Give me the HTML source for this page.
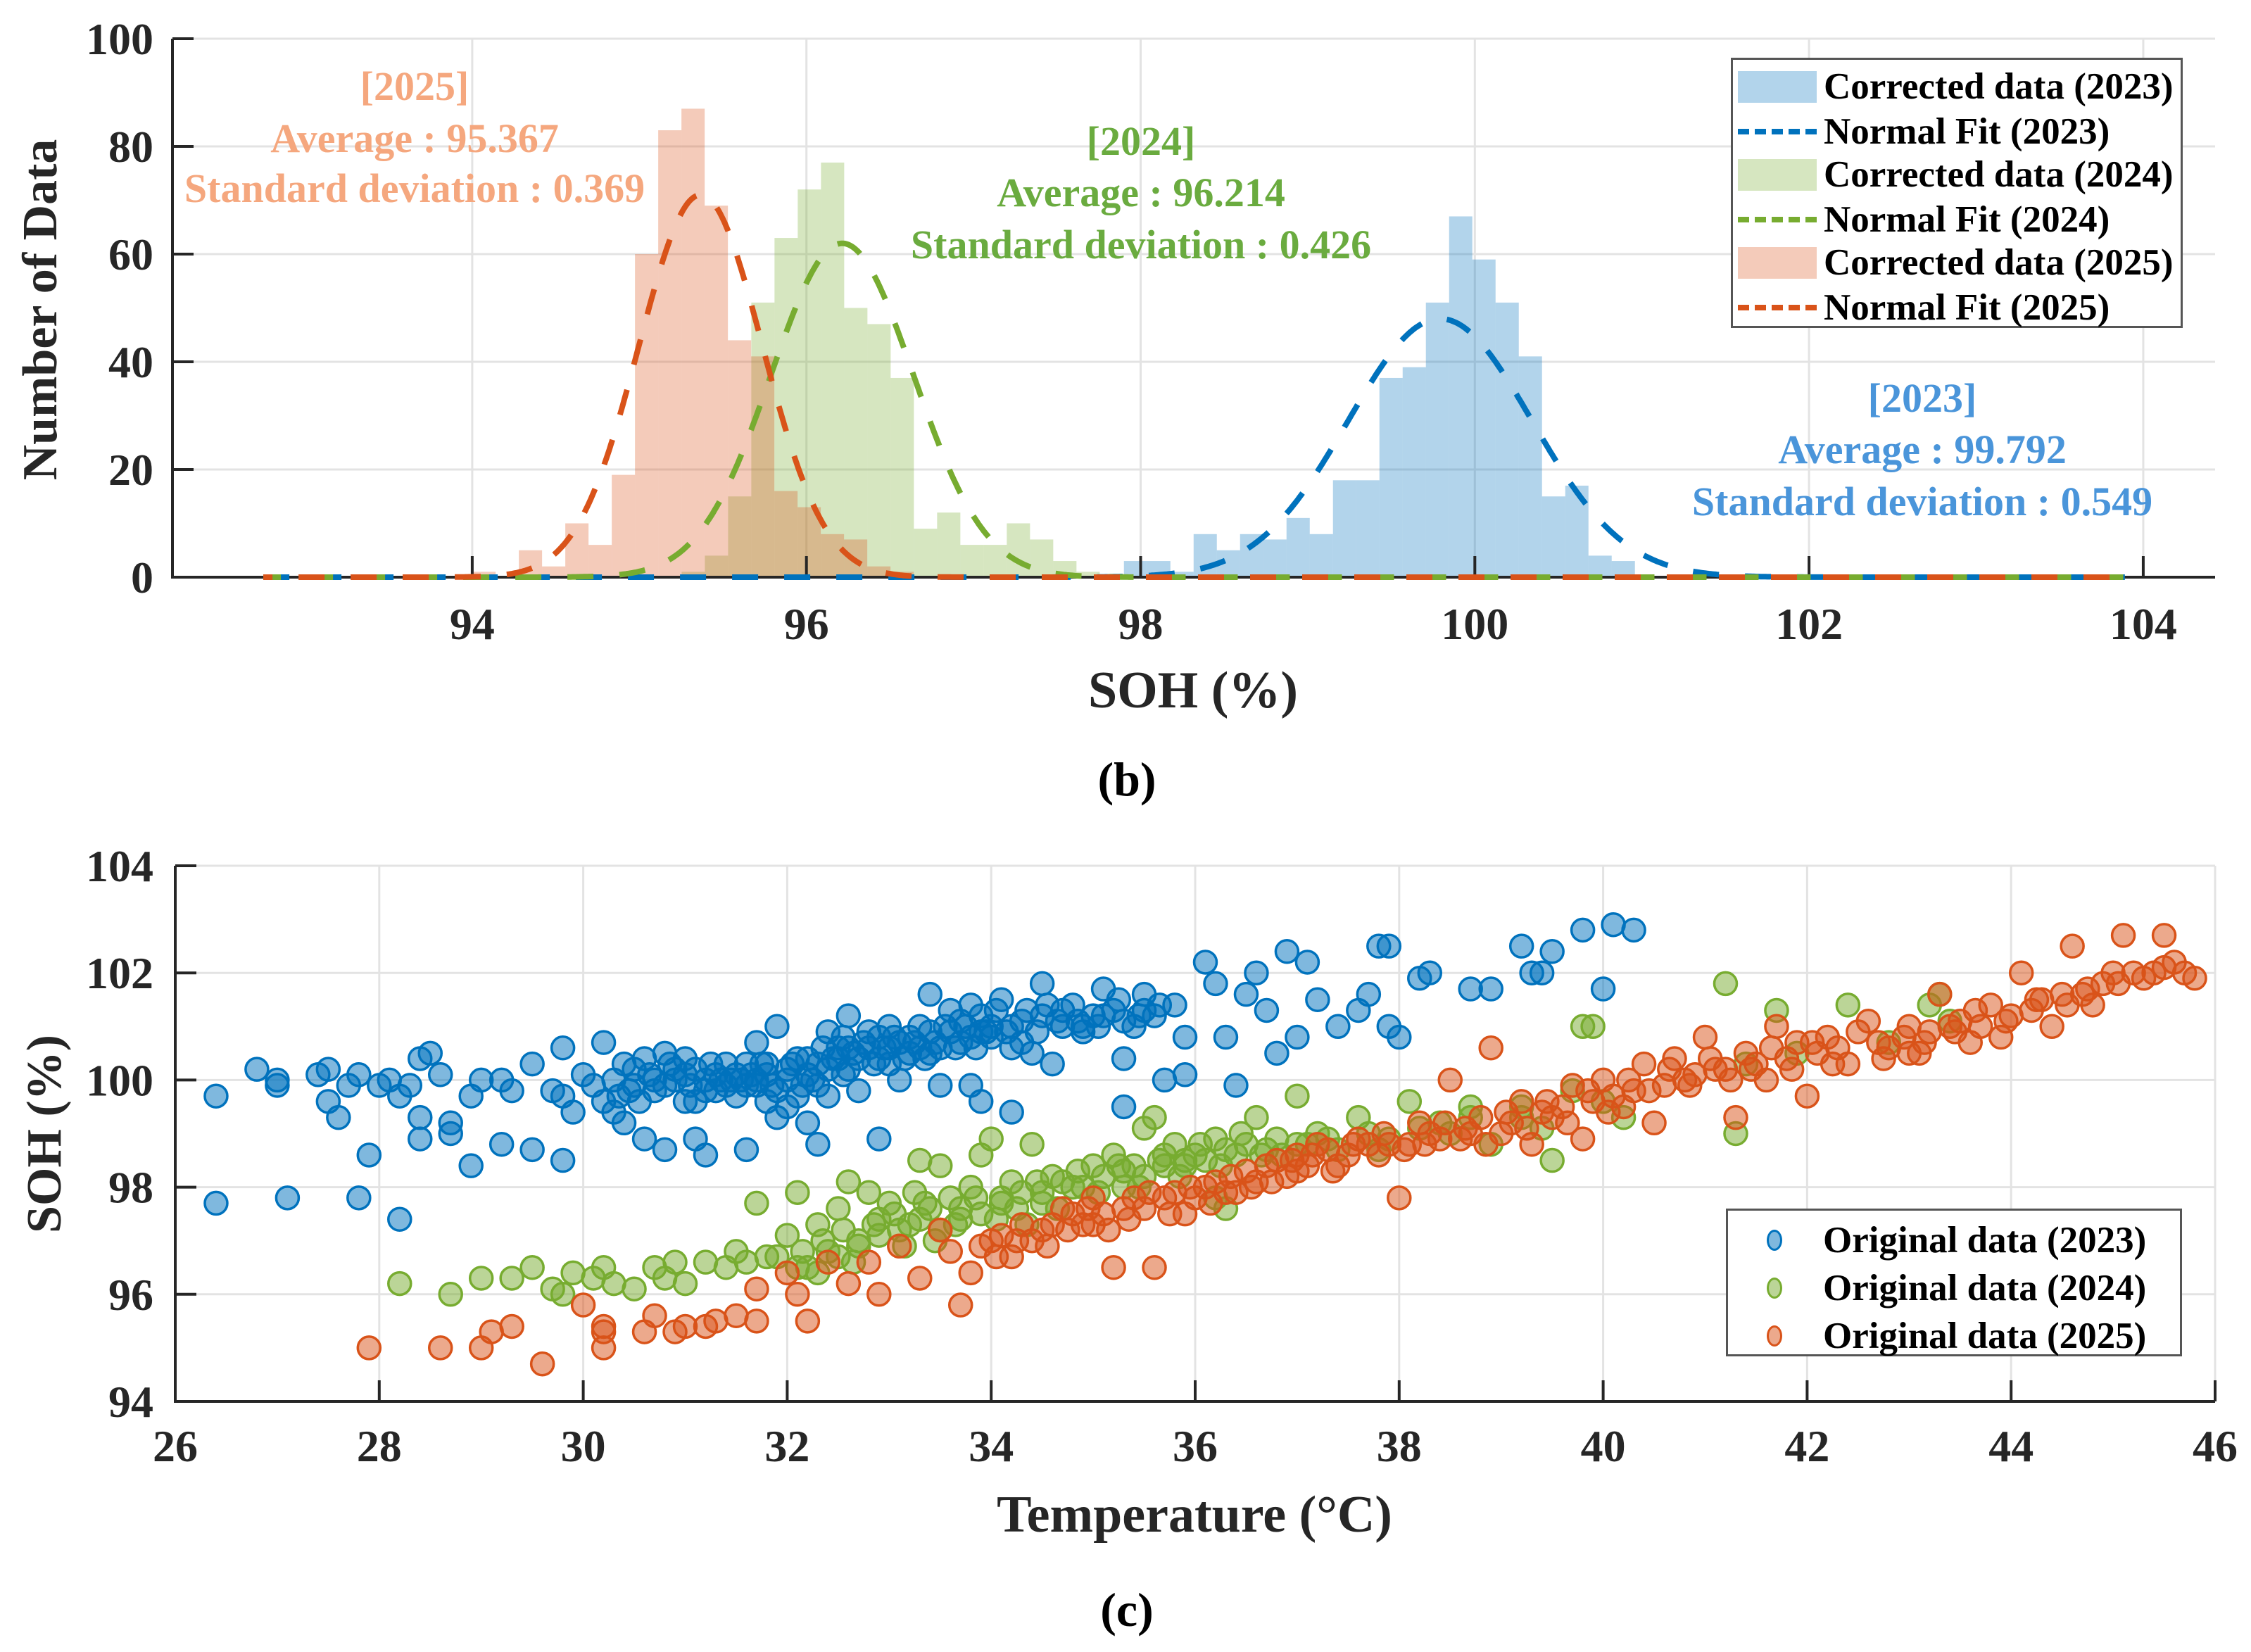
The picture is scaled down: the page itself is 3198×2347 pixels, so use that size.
<!DOCTYPE html>
<html><head><meta charset="utf-8"><style>
html,body{margin:0;padding:0;background:#fff;}
svg{display:block;font-family:"Liberation Serif",serif;font-weight:bold;}
</style></head><body>
<svg id="fig" width="3198" height="2347" viewBox="0 0 3198 2347" xmlns="http://www.w3.org/2000/svg">
<g id="topchart"></g>
<g id="bot"></g>
</svg>
<script>
// ---------- histogram data ----------
const histBinWidth = 0.139;
const histStart2023 = 97.90;
const histCounts2023 = [3,3,1,8,5,8,7,11,8,18,18,37,39,51,67,59,51,41,15,17,4,3];
const histStart2024 = 95.253;
const histCounts2024 = [1,4,15,51,63,72,77,50,47,37,9,12,6,6,10,7,3,1];
const histStart2025 = 94.001;
const histCounts2025 = [1,0,5,2,10,6,19,60,83,87,69,44,41,16,13,8,7,2,1];
const fitMeans = [99.792, 96.214, 95.367];
const fitSds = [0.549, 0.426, 0.369];
const fitPeaks = [48, 62, 71];
const histXTicks = [94,96,98,100,102,104];
const histYTicks = [0,20,40,60,80,100];

// ---------- scatter data [temperature, SOH] ----------
const scatter2023 = [[26.4,99.7],[26.4,97.7],[26.8,100.2],[27.0,99.9],[27.0,100.0],[27.1,97.8],[27.4,100.1],[27.5,100.2],[27.5,99.6],[27.6,99.3],[27.7,99.9],[27.8,100.1],[27.8,97.8],[27.9,98.6],[28.0,99.9],[28.1,100.0],[28.2,99.7],[28.2,97.4],[28.3,99.9],[28.4,100.4],[28.5,100.5],[28.4,99.3],[28.4,98.9],[28.6,100.1],[28.7,99.2],[28.7,99.0],[28.9,99.7],[28.9,98.4],[29.0,100.0],[29.2,100.0],[29.2,98.8],[29.3,99.8],[29.5,100.3],[29.5,98.7],[29.7,99.8],[29.8,100.6],[29.8,99.7],[29.8,98.5],[29.9,99.4],[30.0,100.1],[30.1,99.9],[30.2,99.6],[30.2,100.7],[30.3,99.4],[30.4,100.3],[30.4,99.2],[30.5,99.9],[30.6,98.9],[30.7,100.0],[30.8,100.5],[30.9,100.2],[30.8,98.7],[31.0,99.6],[31.0,100.1],[31.1,98.9],[31.2,99.8],[31.2,98.6],[31.3,100.1],[31.4,100.3],[31.5,99.7],[31.6,98.7],[31.7,100.0],[31.7,100.7],[31.8,100.3],[31.9,101.0],[31.9,99.3],[32.0,100.2],[32.1,99.7],[32.2,100.4],[32.2,99.2],[32.3,98.8],[32.4,99.7],[32.4,100.9],[32.5,100.6],[32.6,100.2],[32.6,101.2],[32.7,99.8],[32.8,100.9],[32.9,100.4],[32.9,98.9],[33.0,101.0],[33.0,100.6],[33.1,100.0],[33.2,100.8],[33.3,101.0],[33.4,100.5],[33.4,101.6],[33.5,99.9],[33.6,101.3],[33.7,100.7],[33.8,101.4],[33.8,99.9],[33.9,100.9],[33.9,99.6],[34.0,101.0],[34.1,101.5],[34.2,100.6],[34.2,99.4],[34.3,101.1],[34.4,100.5],[34.5,101.8],[34.6,100.3],[34.7,101.0],[34.8,101.4],[34.9,100.9],[35.0,101.2],[35.1,101.7],[35.2,101.3],[35.3,100.4],[35.3,99.5],[35.4,101.0],[35.5,101.6],[35.6,101.2],[35.7,100.0],[35.8,101.4],[35.9,100.8],[35.9,100.1],[36.1,102.2],[36.2,101.8],[36.3,100.8],[36.4,99.9],[36.5,101.6],[36.6,102.0],[36.7,101.3],[36.8,100.5],[36.9,102.4],[37.0,100.8],[37.1,102.2],[37.2,101.5],[37.4,101.0],[37.6,101.3],[37.7,101.6],[37.8,102.5],[37.9,102.5],[37.9,101.0],[38.0,100.8],[38.2,101.9],[38.3,102.0],[38.7,101.7],[38.9,101.7],[39.2,102.5],[39.3,102.0],[39.4,102.0],[39.5,102.4],[39.8,102.8],[40.0,101.7],[40.1,102.9],[40.3,102.8],
[30.3,100.0],[30.5,100.2],[30.6,100.4],[30.7,99.8],[30.9,100.0],[31.0,100.4],[31.1,100.2],[31.2,100.0],[31.3,99.8],[31.4,99.9],[31.5,100.1],[31.6,100.3],[31.7,99.9],[31.8,100.1],[31.9,99.8],[32.0,100.0],[32.1,100.4],[32.2,100.1],[32.3,100.3],[32.4,100.2],[32.5,100.4],[32.6,100.6],[32.7,100.4],[32.8,100.6],[32.9,100.8],[33.0,100.3],[33.1,100.7],[33.2,100.5],[33.3,100.6],[33.4,100.9],[33.5,100.6],[33.6,100.9],[33.7,101.1],[33.8,100.8],[33.9,101.2],[34.0,100.8],[34.2,101.0],[34.3,100.7],[34.5,101.2],[34.7,101.3],[34.9,101.0],[35.1,101.2],[35.3,101.1],[35.5,101.3],[30.8,99.9],[31.1,99.6],[31.6,99.9],[32.0,99.5],[32.3,99.9],[31.8,99.6],
[30.35,99.7],[30.55,99.6],[30.65,100.1],[30.85,100.3],[31.05,99.9],[31.25,100.3],[31.35,100.0],[31.55,100.0],[31.65,100.1],[31.75,100.3],[31.85,99.9],[32.05,100.3],[32.15,99.9],[32.25,100.0],[32.35,100.6],[32.45,100.4],[32.55,100.1],[32.65,100.5],[32.75,100.7],[32.85,100.3],[32.95,100.6],[33.05,100.8],[33.15,100.4],[33.25,100.7],[33.35,100.4],[33.45,100.7],[33.55,101.0],[33.65,100.6],[33.75,101.0],[33.85,100.6],[33.95,100.9],[34.05,101.3],[34.15,100.9],[34.35,101.3],[34.45,100.9],[34.55,101.4],[34.65,101.1],[34.85,101.1],[35.05,101.0],[35.25,101.5],[35.45,101.2],[35.65,101.4],[30.45,99.8],[31.45,100.0],[32.55,100.8]];
const scatter2024 = [[28.2,96.2],[28.7,96.0],[29.0,96.3],[29.3,96.3],[29.5,96.5],[29.7,96.1],[29.8,96.0],[29.9,96.4],[30.1,96.3],[30.2,96.5],[30.3,96.2],[30.5,96.1],[30.7,96.5],[30.8,96.3],[30.9,96.6],[31.0,96.2],[31.2,96.6],[31.4,96.5],[31.5,96.8],[31.7,97.7],[31.8,96.7],[32.0,97.1],[32.1,97.9],[32.2,96.5],[32.3,97.3],[32.4,96.8],[32.5,97.6],[32.6,98.1],[32.7,97.0],[32.8,97.9],[32.9,97.4],[33.0,97.7],[33.2,97.3],[33.3,98.5],[33.4,97.6],[33.5,98.4],[33.6,97.8],[33.7,97.4],[33.8,98.0],[33.9,98.6],[34.0,98.9],[34.1,97.8],[34.2,98.1],[34.4,98.8],[34.5,97.9],[34.6,98.2],[34.8,98.0],[35.0,98.4],[35.2,98.6],[35.4,98.4],[35.5,99.1],[35.6,99.3],[35.7,98.6],[35.9,98.4],[36.0,98.6],[36.2,98.9],[36.3,98.7],[36.5,98.8],[36.6,99.3],[36.8,98.9],[37.0,99.7],[37.1,98.8],[37.4,98.7],[37.6,99.3],[37.8,98.7],[37.9,98.9],[38.1,99.6],[38.4,99.2],[38.5,99.0],[38.7,99.5],[38.9,98.8],[39.2,99.5],[39.4,99.1],[39.5,98.5],[39.7,99.8],[39.8,101.0],[39.9,101.0],[40.0,99.6],[40.2,99.3],[41.2,101.8],[41.3,99.0],[41.4,100.3],[41.7,101.3],[41.9,100.5],[42.4,101.4],[42.8,100.7],[43.2,101.4],[43.3,101.6],[43.4,101.1],[35.3,98.0],[36.2,97.8],[36.3,97.6],
[31.6,96.6],[31.9,96.7],[32.1,96.5],[32.3,96.4],[32.5,96.7],[32.7,96.9],[32.9,97.1],[33.1,97.2],[33.3,97.4],[33.5,97.2],[33.7,97.6],[33.9,97.5],[34.1,97.7],[34.3,97.9],[34.5,97.7],[34.7,98.1],[34.9,98.0],[35.1,98.2],[35.3,98.3],[35.5,98.2],[35.7,98.4],[35.9,98.5],[36.1,98.5],[36.4,98.6],[36.7,98.7],[37.0,98.8],[37.3,98.9],[37.7,99.0],[38.2,99.1],[38.7,99.3],[39.2,99.3],
[32.15,96.8],[32.35,97.0],[32.55,97.2],[32.65,96.6],[32.85,97.3],[33.05,97.5],[33.15,96.9],[33.35,97.7],[33.45,97.0],[33.65,97.3],[33.85,97.8],[34.05,97.4],[34.25,97.6],[34.45,98.1],[34.65,97.6],[34.85,98.3],[35.05,97.9],[35.25,98.4],[35.45,98.0],[35.65,98.5],[35.85,98.2],[36.05,98.8],[36.25,98.4],[36.45,99.0],[36.65,98.6],[36.85,98.6],[37.2,99.0],[33.25,97.9],[34.35,97.3],[35.8,98.8]];
const scatter2025 = [[27.9,95.0],[28.6,95.0],[29.0,95.0],[29.1,95.3],[29.3,95.4],[29.6,94.7],[30.0,95.8],[30.2,95.4],[30.2,95.3],[30.2,95.0],[30.6,95.3],[30.7,95.6],[30.9,95.3],[31.0,95.4],[31.2,95.4],[31.3,95.5],[31.5,95.6],[31.7,96.1],[31.7,95.5],[32.0,96.4],[32.1,96.0],[32.2,95.5],[32.4,96.6],[32.6,96.2],[32.8,96.6],[32.9,96.0],[33.1,96.9],[33.3,96.3],[33.5,97.2],[33.7,95.8],[33.8,96.4],[34.0,97.0],[34.2,96.7],[34.3,97.3],[34.5,97.2],[34.7,97.6],[34.9,97.3],[35.0,97.8],[35.2,96.5],[35.3,97.6],[35.5,97.6],[35.6,96.5],[35.7,97.8],[35.9,97.5],[36.1,98.0],[36.3,97.9],[36.5,98.3],[36.7,98.4],[36.9,98.2],[37.0,98.6],[37.2,98.8],[37.4,98.4],[37.6,98.9],[37.8,98.6],[37.9,98.8],[38.0,97.8],[38.2,99.2],[38.3,99.0],[38.5,100.0],[38.6,98.9],[38.8,99.3],[38.9,100.6],[39.0,99.0],[39.2,99.6],[39.3,98.8],[39.5,99.3],[39.7,99.9],[39.8,98.9],[39.9,99.6],[40.0,100.0],[40.2,99.5],[40.4,100.3],[40.5,99.2],[40.7,100.4],[40.8,100.0],[41.0,100.8],[41.1,100.2],[41.3,99.3],[41.4,100.5],[41.6,100.0],[41.7,101.0],[41.9,100.7],[42.0,99.7],[42.2,100.8],[42.4,100.3],[42.6,101.1],[42.8,100.6],[43.0,101.0],[43.1,100.5],[43.3,101.6],[43.4,101.0],[43.6,100.7],[43.8,101.4],[43.9,100.8],[44.0,101.2],[44.1,102.0],[44.3,101.5],[44.4,101.0],[44.5,101.6],[44.6,102.5],[44.8,101.4],[45.0,102.0],[45.1,102.7],[45.3,101.9],[45.5,102.1],[45.5,102.7],[45.7,102.0],[45.8,101.9],
[33.6,96.8],[33.9,96.9],[34.1,97.1],[34.4,97.0],[34.6,97.3],[34.8,97.5],[35.1,97.5],[35.4,97.8],[35.8,97.9],[36.0,97.8],[36.2,98.1],[36.6,98.1],[36.8,98.5],[37.1,98.4],[37.3,98.7],[37.5,98.6],[37.7,98.8],[38.1,98.8],[38.4,98.9],[38.7,99.0],[39.1,99.2],[39.4,99.4],[39.6,99.5],[40.1,99.7],[40.3,99.8],[40.6,99.9],[40.9,100.1],[41.2,100.2],[41.5,100.3],[41.8,100.4],[42.1,100.5],[42.3,100.6],[42.7,100.7],[43.0,100.5],[43.2,100.9],[43.5,101.1],[43.7,101.0],[44.2,101.3],[44.7,101.6],[44.9,101.8],[45.2,102.0],[45.6,102.2],
[34.05,96.7],[34.25,97.0],[34.55,96.9],[34.75,97.2],[34.95,97.6],[35.15,97.2],[35.35,97.4],[35.55,97.9],[35.75,97.5],[35.95,98.0],[36.15,97.7],[36.35,98.2],[36.55,98.0],[36.75,98.1],[36.95,98.5],[37.15,98.6],[37.35,98.3],[37.55,98.8],[37.85,99.0],[38.05,98.7],[38.25,98.8],[38.45,99.2],[38.65,99.1],[38.85,98.8],[39.05,99.4],[39.25,99.1],[39.45,99.6],[39.65,99.2],[39.85,99.8],[40.05,99.4],[40.25,100.0],[40.45,99.8],[40.65,100.2],[40.85,99.9],[41.05,100.4],[41.25,100.0],[41.45,100.2],[41.65,100.6],[41.85,100.2],[42.05,100.7],[42.25,100.3],[42.5,100.9],[42.75,100.4],[42.95,100.8],[43.15,100.7],[43.45,100.9],[43.65,101.3],[43.95,101.1],[44.25,101.5],[44.55,101.4],[44.75,101.7],[45.05,101.8],[45.4,102.0],[37.0,98.3],[36.4,97.9],[35.0,97.3]];
const scatterXTicks = [26,28,30,32,34,36,38,40,42,44,46];
const scatterYTicks = [94,96,98,100,102,104];

(function(){
const NS = "http://www.w3.org/2000/svg";
const topG = document.getElementById("topchart");
function mk(parent, tag, attrs, text){
  const e = document.createElementNS(NS, tag);
  for (const k in attrs) e.setAttribute(k, attrs[k]);
  if (text !== undefined) e.textContent = text;
  parent.appendChild(e);
  return e;
}
const C = {blue:"#0072BD", green:"#77AC30", orange:"#D95319"};
const tL=245, tR=3147, tT=55, tB=820, tX0=92.206, tX1=104.43;
const hx = v => tL + (v - tX0) / (tX1 - tX0) * (tR - tL);
const hy = v => tB - v / 100 * (tB - tT);

histYTicks.forEach(t => {
  if (t === 0) return;
  const g = mk(topG, "line", {x1:tL, x2:tR, y1:hy(t), y2:hy(t), stroke:"#e3e3e3", "stroke-width":3});
  
  
});
histXTicks.forEach(t => {
  const g = mk(topG, "line", {x1:hx(t), x2:hx(t), y1:tT, y2:tB, stroke:"#e3e3e3", "stroke-width":3});
  
  
});

function drawHist(start, counts, color, name){
  counts.forEach((c, i) => {
    if (c <= 0) return;
    const x0 = start + i * histBinWidth;
    const r = mk(topG, "rect", {x:hx(x0), y:hy(c), width:hx(x0 + histBinWidth) - hx(x0), height:hy(0) - hy(c), fill:color, "fill-opacity":0.3});
    
    
  });
}
drawHist(histStart2023, histCounts2023, C.blue, "hist-bar-2023");
drawHist(histStart2024, histCounts2024, C.green, "hist-bar-2024");
drawHist(histStart2025, histCounts2025, C.orange, "hist-bar-2025");

const ax1 = mk(topG, "path", {d:`M${tL},${tT} L${tL},${tB} L${tR},${tB}`, fill:"none", stroke:"#262626", "stroke-width":4});


histXTicks.forEach(t => {
  const tk = mk(topG, "line", {x1:hx(t), x2:hx(t), y1:tB, y2:tB-30, stroke:"#262626", "stroke-width":4});
  
  
  const lb = mk(topG, "text", {x:hx(t), y:tB+88, "text-anchor":"middle", "font-size":64, fill:"#262626"}, String(t));
  
  
});
histYTicks.forEach(t => {
  const tk = mk(topG, "line", {x1:tL, x2:tL+30, y1:hy(t), y2:hy(t), stroke:"#262626", "stroke-width":4});
  
  
  const lb = mk(topG, "text", {x:218, y:hy(t)+22, "text-anchor":"end", "font-size":64, fill:"#262626"}, String(t));
  
  
});

const fitColors = [C.blue, C.green, C.orange];
const fitNames = ["fit-line-2023","fit-line-2024","fit-line-2025"];
fitMeans.forEach((m, k) => {
  let d = "";
  for (let x = 92.75; x <= 103.9; x += 0.01) {
    const v = fitPeaks[k] * Math.exp(-0.5 * Math.pow((x - m) / fitSds[k], 2));
    d += (d ? "L" : "M") + hx(x).toFixed(1) + "," + hy(v).toFixed(1);
  }
  const p = mk(topG, "path", {d:d, fill:"none", stroke:fitColors[k], "stroke-width":8, "stroke-dasharray":"37 37", "stroke-dashoffset":(k*12)});
  
  
});

function T(x,y,txt,size,fill,name,anchor,rot){
  const e = document.createElementNS(NS,"text");
  e.setAttribute("x",x); e.setAttribute("y",y);
  e.setAttribute("font-size",size); e.setAttribute("fill",fill);
  e.setAttribute("text-anchor",anchor||"middle");
  if(rot) e.setAttribute("transform",rot);
  e.textContent = txt;
  
  
  topG.appendChild(e);
  return e;
}
T(589,142,"[2025]",58,"#F5A77E","annotation-2025-title");
T(589,216,"Average : 95.367",58,"#F5A77E","annotation-2025-average");
T(589,287,"Standard deviation : 0.369",58,"#F5A77E","annotation-2025-sd");
T(1621,220,"[2024]",58,"#6AAB3F","annotation-2024-title");
T(1621,293,"Average : 96.214",58,"#6AAB3F","annotation-2024-average");
T(1621,367,"Standard deviation : 0.426",58,"#6AAB3F","annotation-2024-sd");
T(2731,585,"[2023]",58,"#4A95DA","annotation-2023-title");
T(2731,658,"Average : 99.792",58,"#4A95DA","annotation-2023-average");
T(2731,732,"Standard deviation : 0.549",58,"#4A95DA","annotation-2023-sd");
T(1695,1005,"SOH (%)",74,"#262626","x-axis-title");
T(0,0,"Number of Data",70,"#262626","y-axis-title","middle","translate(80,440) rotate(-90)");
T(1601,1130,"(b)",68,"#000","panel-label-b");
})();
</script>
<script>
(function(){
const NS="http://www.w3.org/2000/svg";
const bot = document.getElementById("bot");
function mk(tag, attrs, text){
  const e = document.createElementNS(NS, tag);
  for (const k in attrs) e.setAttribute(k, attrs[k]);
  if (text !== undefined) e.textContent = text;
  bot.appendChild(e);
  return e;
}
const L=249, R=3147, Tp=1230, B=1991, X0=26, X1=46, Y0=94, Y1=104;
const sx = v => L + (v - X0) / (X1 - X0) * (R - L);
const sy = v => B - (v - Y0) / (Y1 - Y0) * (B - Tp);
scatterYTicks.forEach(t => {
  const g = mk("line",{x1:L,x2:R,y1:sy(t),y2:sy(t),stroke:"#e3e3e3","stroke-width":3});
  
  
});
scatterXTicks.forEach(t => {
  const g = mk("line",{x1:sx(t),x2:sx(t),y1:Tp,y2:B,stroke:"#e3e3e3","stroke-width":3});
  
  
});
function pts(arr, color, name){
  arr.forEach(p => {
    const c = mk("circle",{cx:sx(p[0]),cy:sy(p[1]),r:16,fill:color,"fill-opacity":0.5,stroke:color,"stroke-width":3.5});
    
    
  });
}
pts(scatter2023, "#0072BD", "point-2023");
pts(scatter2024, "#77AC30", "point-2024");
pts(scatter2025, "#D95319", "point-2025");
const ax = mk("path",{d:`M${L},${Tp} L${L},${B} L${R},${B}`,fill:"none",stroke:"#262626","stroke-width":4});


scatterXTicks.forEach(t => {
  const tk = mk("line",{x1:sx(t),x2:sx(t),y1:B,y2:B-30,stroke:"#262626","stroke-width":4});
  
  
  const lb = mk("text",{x:sx(t),y:B+85,"text-anchor":"middle","font-size":64,fill:"#262626"},String(t));
  
  
});
scatterYTicks.forEach(t => {
  const tk = mk("line",{x1:L,x2:L+30,y1:sy(t),y2:sy(t),stroke:"#262626","stroke-width":4});
  
  
  const lb = mk("text",{x:218,y:sy(t)+22,"text-anchor":"end","font-size":64,fill:"#262626"},String(t));
  
  
});
const xt = mk("text",{x:1697,y:2176,"text-anchor":"middle","font-size":74,fill:"#262626"},"Temperature (°C)");


const yt = mk("text",{x:0,y:0,"text-anchor":"middle","font-size":70,fill:"#262626",transform:"translate(86,1611) rotate(-90)"},"SOH (%)");


const pc = mk("text",{x:1601,y:2310,"text-anchor":"middle","font-size":68,fill:"#000"},"(c)");


})();
</script>

<div style="position:absolute;left:2459px;top:82px;width:642px;height:384px;box-sizing:border-box;border:3px solid #555;background:#fff;font-family:'Liberation Serif',serif;font-weight:bold;font-size:53px;color:#000;">
  <div style="position:absolute;top:13px;left:7px;height:50px;display:flex;align-items:center;white-space:nowrap"><span style="display:inline-block;width:112px;height:45px;background:rgba(0,114,189,0.3)"></span><span style="margin-left:10px">Corrected data (2023)</span></div>
  <div style="position:absolute;top:77px;left:7px;height:50px;display:flex;align-items:center;white-space:nowrap"><span style="display:inline-block;width:112px;height:0;border-top:8px dashed #0072BD"></span><span style="margin-left:10px">Normal Fit (2023)</span></div>
  <div style="position:absolute;top:138px;left:7px;height:50px;display:flex;align-items:center;white-space:nowrap"><span style="display:inline-block;width:112px;height:45px;background:rgba(119,172,48,0.3)"></span><span style="margin-left:10px">Corrected data (2024)</span></div>
  <div style="position:absolute;top:202px;left:7px;height:50px;display:flex;align-items:center;white-space:nowrap"><span style="display:inline-block;width:112px;height:0;border-top:8px dashed #77AC30"></span><span style="margin-left:10px">Normal Fit (2024)</span></div>
  <div style="position:absolute;top:263px;left:7px;height:50px;display:flex;align-items:center;white-space:nowrap"><span style="display:inline-block;width:112px;height:45px;background:rgba(217,83,25,0.3)"></span><span style="margin-left:10px">Corrected data (2025)</span></div>
  <div style="position:absolute;top:327px;left:7px;height:50px;display:flex;align-items:center;white-space:nowrap"><span style="display:inline-block;width:112px;height:0;border-top:8px dashed #D95319"></span><span style="margin-left:10px">Normal Fit (2025)</span></div>
</div>
<div style="position:absolute;left:2452px;top:1717px;width:648px;height:210px;box-sizing:border-box;border:3px solid #555;background:#fff;font-family:'Liberation Serif',serif;font-weight:bold;font-size:53px;color:#000;">
  <div style="position:absolute;top:14px;left:55px;height:56px;display:flex;align-items:center;white-space:nowrap"><span style="display:inline-block;width:22px;height:30px;border-radius:50%;background:rgba(0,114,189,0.5);border:3px solid #0072BD;box-sizing:border-box"></span><span style="margin-left:58px">Original data (2023)</span></div>
  <div style="position:absolute;top:82px;left:55px;height:56px;display:flex;align-items:center;white-space:nowrap"><span style="display:inline-block;width:22px;height:30px;border-radius:50%;background:rgba(119,172,48,0.5);border:3px solid #77AC30;box-sizing:border-box"></span><span style="margin-left:58px">Original data (2024)</span></div>
  <div style="position:absolute;top:150px;left:55px;height:56px;display:flex;align-items:center;white-space:nowrap"><span style="display:inline-block;width:22px;height:30px;border-radius:50%;background:rgba(217,83,25,0.5);border:3px solid #D95319;box-sizing:border-box"></span><span style="margin-left:58px">Original data (2025)</span></div>
</div>
</body></html>
